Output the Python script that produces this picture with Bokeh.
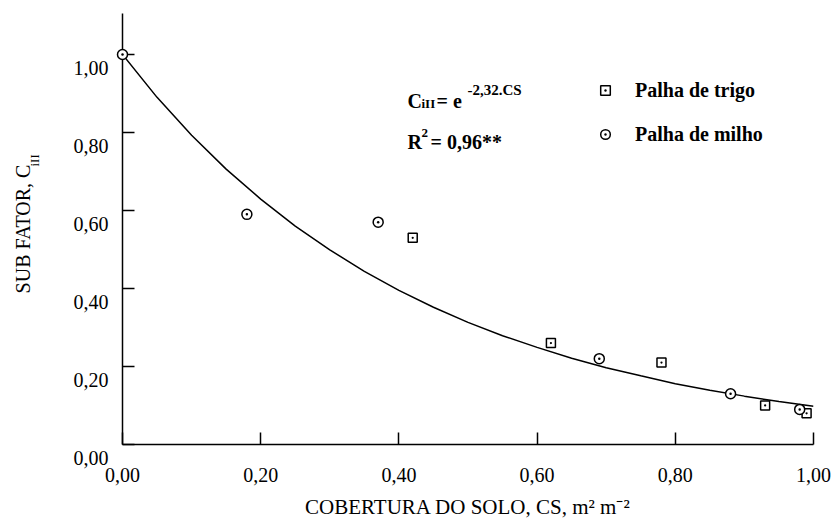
import math
from bokeh.plotting import figure
from bokeh.models import Range1d, FixedTicker, Label, Legend, LegendItem
from bokeh.embed import file_html
from bokeh.resources import INLINE

# ---- data ----
milho_x = [0.00, 0.18, 0.37, 0.69, 0.88, 0.98]
milho_y = [1.00, 0.59, 0.57, 0.22, 0.13, 0.09]
trigo_x = [0.42, 0.62, 0.78, 0.93, 0.99]
trigo_y = [0.53, 0.26, 0.21, 0.10, 0.08]
# fitted curve C = e^(-2,32.CS)
curve_x = [0.00, 0.05, 0.10, 0.15, 0.20, 0.25, 0.30, 0.35, 0.40, 0.45, 0.50,
           0.55, 0.60, 0.65, 0.70, 0.75, 0.80, 0.85, 0.90, 0.95, 1.00]
curve_y = [1.000, 0.890, 0.793, 0.706, 0.629, 0.560, 0.499, 0.444, 0.395, 0.352, 0.313,
           0.279, 0.249, 0.221, 0.197, 0.176, 0.156, 0.139, 0.124, 0.110, 0.098]
tick_values = [0.0, 0.2, 0.4, 0.6, 0.8, 1.0]
tick_labels = ["0,00", "0,20", "0,40", "0,60", "0,80", "1,00"]

FONT = "Liberation Serif"

W, H = 832, 526
LEFT, TOP = 122, 13
FRAME_RIGHT, FRAME_BOTTOM = 813, 444
RIGHT, BOTTOM = W - FRAME_RIGHT, H - FRAME_BOTTOM
X0, X1, Y0, Y1 = 0.0, 1.0, 0.0, 1.105

p = figure(width=W, height=H, output_backend="svg", toolbar_location=None,
           x_range=Range1d(X0, X1), y_range=Range1d(Y0, Y1),
           min_border_left=LEFT, min_border_right=RIGHT,
           min_border_top=TOP, min_border_bottom=BOTTOM)
p.outline_line_color = None
p.grid.visible = False
p.background_fill_color = "white"
p.border_fill_color = "white"

FL, FT = LEFT, TOP
FW = W - LEFT - RIGHT
FH = H - TOP - BOTTOM
FB = FT + FH

def dx(sx):
    return X0 + (sx - FL) / FW * (X1 - X0)

def dy(sy):
    return Y0 + (FB - sy) / FH * (Y1 - Y0)

for ax in (p.xaxis[0], p.yaxis[0]):
    ax.ticker = FixedTicker(ticks=tick_values)
    ax.major_tick_in = 12
    ax.major_tick_out = 0
    ax.minor_tick_line_color = None
    ax.axis_line_width = 1.5
    ax.major_tick_line_width = 1.5
    ax.axis_line_color = "black"
    ax.major_tick_line_color = "black"
    ax.major_label_text_font = FONT
    ax.major_label_text_font_size = "20px"
    ax.major_label_text_color = "black"
    ax.axis_label_text_font = FONT
    ax.axis_label_text_font_style = "normal"
    ax.axis_label_text_color = "black"

p.xaxis.major_label_overrides = {v: t for v, t in zip(tick_values, tick_labels)}
# y labels sit a little below their ticks in the reference
p.yaxis.major_label_overrides = {v: "\n" + t for v, t in zip(tick_values, tick_labels)}

p.xaxis.major_label_standoff = 23
p.xaxis.axis_label = "COBERTURA DO SOLO, CS, m\u00b2 m\u207b\u00b2"
p.xaxis.axis_label_text_font_size = "21px"
p.xaxis.axis_label_standoff = 10
p.yaxis.major_label_standoff = 14
p.yaxis.axis_label = "SUB FATOR, C"
p.yaxis.axis_label_text_font_size = "20px"
p.yaxis.axis_label_standoff = 37

# fitted curve
p.line(curve_x, curve_y, line_color="black", line_width=1.5)

# points
r_trigo = p.scatter(trigo_x, trigo_y, marker="square_dot", size=9,
                    line_color="black", line_width=1.5, fill_color="white")
r_milho = p.scatter(milho_x, milho_y, marker="circle_dot", size=10,
                    line_color="black", line_width=1.5, fill_color="white",
                    level="overlay")

legend = Legend(items=[LegendItem(label="Palha de trigo", renderers=[r_trigo]),
                       LegendItem(label="Palha de milho", renderers=[r_milho])],
                location=(471, 298), orientation="vertical",
                glyph_width=24, glyph_height=24, label_height=24,
                label_standoff=18, spacing=20, padding=0, margin=0,
                border_line_color=None, background_fill_alpha=0,
                label_text_font=FONT, label_text_font_style="bold",
                label_text_font_size="20px", label_text_color="black")
p.add_layout(legend, "center")

def lab(text, sx, sy, size, bold=True, angle=0.0, align="left",
        baseline="alphabetic", place="center"):
    p.add_layout(Label(x=dx(sx), y=dy(sy), text=text, text_font=FONT,
                       text_font_size=f"{size}px",
                       text_font_style="bold" if bold else "normal",
                       text_color="black", angle=angle,
                       text_align=align, text_baseline=baseline), place)

# equation and R2
lab("C", 407, 100, 20)
lab("iII", 421, 103, 13)
lab("= e", 436, 100, 20)
lab("-2,32.CS", 467, 89, 15)
lab("R", 407, 141, 20)
lab("2", 421, 132, 13)
lab("= 0,96**", 430, 141, 20)

# subscript of the y axis title (held by a side panel so it is not clipped
# to the frame; it is still positioned through the plot's scales)
lab("iII", 34, 166, 13, bold=False, angle=math.pi / 2, place="right")

open("out.html", "w").write(file_html(p, INLINE))
